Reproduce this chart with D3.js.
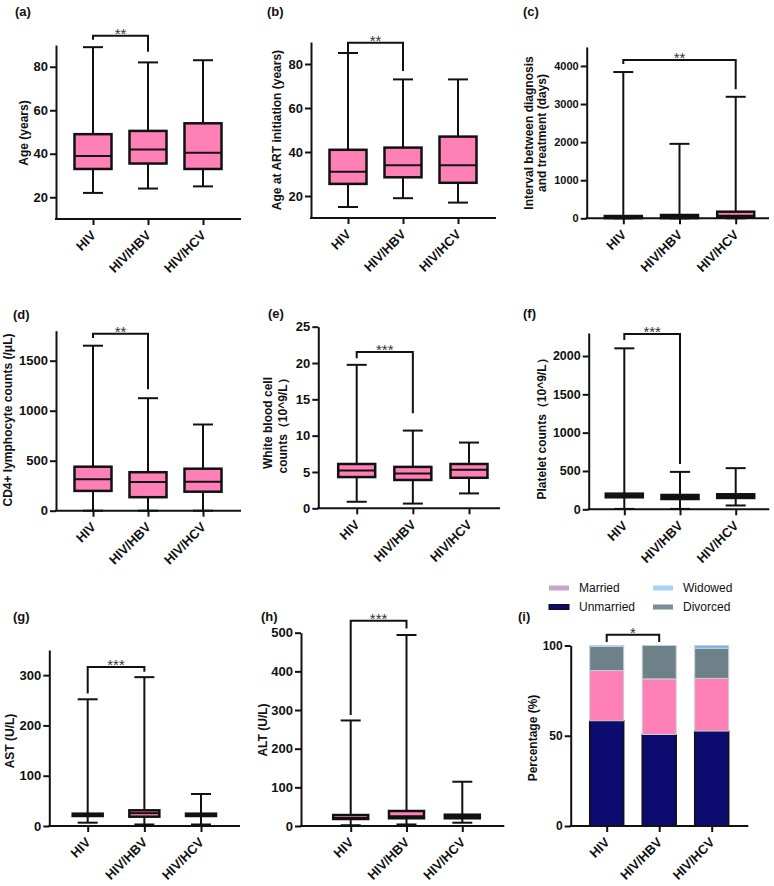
<!DOCTYPE html>
<html>
<head>
<meta charset="utf-8">
<script src="https://cdn.jsdelivr.net/npm/d3@7"></script>
<style>
  body { margin: 0; background: #fff; }
  svg text { font-family: Arial, "Liberation Sans", sans-serif; }
</style>
</head>
<body>
<script>
// groups on every x axis
const groups = ["HIV", "HIV/HBV", "HIV/HCV"];

// box stats per group: [min, q1, median, q3, max]
const ageStats      = [[22, 33, 39, 49, 89], [24, 35.5, 42, 50.5, 82], [25, 33, 40.5, 54, 83]];
const artAgeStats   = [[15, 25.5, 31, 41, 85], [19, 28.5, 34, 42, 73], [17, 26, 34, 47, 73]];
const intervalStats = [[0, 5, 30, 60, 3840], [0, 5, 40, 87, 1955], [0, 26, 70, 173, 3190]];
const cd4Stats      = [[0, 198, 315, 440, 1650], [0, 135, 287, 385, 1125], [0, 190, 290, 420, 862]];
const wbcStats      = [[0.9, 4.3, 5.2, 6.1, 19.75], [0.65, 3.9, 4.8, 5.7, 10.7], [2.05, 4.2, 5.3, 6.1, 9.05]];
const pltStats      = [[5, 157, 180, 204, 2100], [5, 134, 160, 187, 488], [50, 148, 172, 196, 537]];
const astStats      = [[6.6, 19.9, 22, 24.5, 252], [3, 18.5, 25.5, 31.2, 296], [3, 19.9, 22, 24.5, 63.6]];
const altStats      = [[2, 18.1, 21, 28.4, 273], [4, 20, 25, 38.8, 494], [8.5, 20, 25, 29.2, 114.5]];

// tick values
const ageTicks      = [20, 40, 60, 80];
const intervalTicks = [0, 1000, 2000, 3000, 4000];
const cd4Ticks      = [0, 500, 1000, 1500];
const wbcTicks      = [0, 5, 10, 15, 20, 25];
const pltTicks      = [0, 500, 1000, 1500, 2000];
const astTicks      = [0, 100, 200, 300];
const altTicks      = [0, 100, 200, 300, 400, 500];
const pctTicks      = [0, 50, 100];

// marital status (%), stacked bottom to top
const maritalKeys = ["Unmarried", "Married", "Divorced", "Widowed"];
const unmarried = [58.3, 50.7, 52.6];
const married   = [27.8, 30.8, 29.2];
const divorced  = [13.4, 18.5, 16.7];
const widowed   = [0.5, 0, 1.5];

const pink = "#ff80b6";
const ink = "#111";

const svg = d3.select("body").append("svg")
    .attr("width", 774)
    .attr("height", 886);

function styleAxes(g) {
  g.selectAll("path, line").attr("stroke", ink).attr("stroke-width", 2);
  g.selectAll("text").attr("fill", ink).attr("font-weight", "bold");
}

function frame(p, y) {
  const g = svg.append("g");
  const x = d3.scalePoint().domain(groups).range(p.cats);

  g.append("g")
      .attr("transform", `translate(${p.ax},0)`)
      .call(d3.axisLeft(y).tickValues(p.ticks).tickFormat(d3.format("d"))
        .tickSize(6).tickSizeOuter(0).tickPadding(2))
      .call(styleAxes)
      .selectAll("text").attr("font-size", p.yFont || 13);

  const xa = g.append("g")
      .attr("transform", `translate(0,${p.yBot})`)
      .call(d3.axisBottom(x).tickSize(6).tickSizeOuter(0))
      .call(styleAxes);
  xa.select(".domain").remove();
  xa.append("line")
      .attr("x1", p.ax - 1).attr("x2", p.axEnd)
      .attr("stroke", ink).attr("stroke-width", 2);
  xa.selectAll(".tick text")
      .attr("font-size", 13)
      .attr("x", 0).attr("y", 0).attr("dy", "0.35em")
      .attr("text-anchor", "end")
      .attr("transform", "translate(0,14) rotate(-45)");

  // y title
  p.title.forEach((t, i) => {
    svg.append("text")
        .attr("transform", `translate(${p.titleX[i]},${p.titleY}) rotate(-90)`)
        .attr("text-anchor", "middle")
        .attr("font-size", 12).attr("font-weight", "bold").attr("fill", ink)
        .text(t);
  });

  // panel label
  svg.append("text")
      .attr("x", p.lab[0]).attr("y", p.lab[1])
      .attr("font-size", 13).attr("font-weight", "bold").attr("fill", ink)
      .text(p.label);

  // significance bracket
  const b = p.bracket;
  const x1 = x(groups[b.from]), x2 = x(groups[b.to]);
  g.append("path")
      .attr("d", `M${x1},${y(b.left)}V${y(b.y)}H${x2}V${y(b.right)}`)
      .attr("fill", "none").attr("stroke", ink).attr("stroke-width", 2);
  g.append("text")
      .attr("x", (x1 + x2) / 2).attr("y", y(b.y) + 3)
      .attr("text-anchor", "middle")
      .attr("font-size", 15).attr("fill", "#333")
      .text(b.stars);

  return { g, x };
}

function boxPanel(p) {
  const y = d3.scaleLinear().domain(p.domain).range([p.yBot, p.yTop]);
  const { g, x } = frame(p, y);
  const bw = p.boxW, cw = 20;

  const box = g.selectAll(".box")
    .data(p.stats)
    .enter().append("g")
      .attr("class", "box")
      .attr("transform", (d, i) => `translate(${x(groups[i])},0)`);

  box.append("line")
      .attr("y1", d => y(d[0])).attr("y2", d => y(d[4]))
      .attr("stroke", ink).attr("stroke-width", 2);
  box.append("line")
      .attr("x1", -cw / 2).attr("x2", cw / 2)
      .attr("y1", d => y(d[0])).attr("y2", d => y(d[0]))
      .attr("stroke", ink).attr("stroke-width", 2);
  box.append("line")
      .attr("x1", -cw / 2).attr("x2", cw / 2)
      .attr("y1", d => y(d[4])).attr("y2", d => y(d[4]))
      .attr("stroke", ink).attr("stroke-width", 2);
  box.append("rect")
      .attr("x", -bw / 2).attr("width", bw)
      .attr("y", d => y(d[3]))
      .attr("height", d => y(d[1]) - y(d[3]))
      .attr("fill", pink).attr("stroke", ink).attr("stroke-width", 2.5);
  box.append("line")
      .attr("x1", -bw / 2).attr("x2", bw / 2)
      .attr("y1", d => y(d[2])).attr("y2", d => y(d[2]))
      .attr("stroke", ink).attr("stroke-width", 2);
}

boxPanel({ label: "(a)", lab: [15, 16], stats: ageStats, ticks: ageTicks, domain: [10, 90],
  ax: 56, axEnd: 241, yTop: 45, yBot: 219, cats: [93, 203], boxW: 37,
  title: ["Age (years)"], titleX: [28], titleY: 133,
  bracket: { from: 0, to: 1, y: 94.3, left: 92.4, right: 86.9, stars: "**" } });

boxPanel({ label: "(b)", lab: [267, 16], stats: artAgeStats, ticks: ageTicks, domain: [10, 90],
  ax: 311, axEnd: 496, yTop: 42, yBot: 218, cats: [348, 458], boxW: 37,
  title: ["Age at ART initiation (years)"], titleX: [281], titleY: 130,
  bracket: { from: 0, to: 1, y: 89.7, left: 85.1, right: 76.8, stars: "**" } });

boxPanel({ label: "(c)", lab: [523, 16], stats: intervalStats, ticks: intervalTicks, domain: [0, 4500],
  ax: 586.7, axEnd: 769, yTop: 46.9, yBot: 218.3, cats: [623.3, 735.7], boxW: 37, yFont: 11,
  title: ["Interval between diagnosis", "and treatment (days)"], titleX: [533, 546], titleY: 133,
  bracket: { from: 0, to: 2, y: 4157, left: 4052, right: 3388, stars: "**" } });

boxPanel({ label: "(d)", lab: [13, 319], stats: cd4Stats, ticks: cd4Ticks, domain: [0, 1800],
  ax: 56, axEnd: 241, yTop: 330.7, yBot: 510.7, cats: [93, 203], boxW: 37,
  title: ["CD4+ lymphocyte counts (/\u03bcL)"], titleX: [12], titleY: 420,
  bracket: { from: 0, to: 1, y: 1770, left: 1727, right: 1214, stars: "**" } });

boxPanel({ label: "(e)", lab: [268, 318], stats: wbcStats, ticks: wbcTicks, domain: [0, 25],
  ax: 318.3, axEnd: 500, yTop: 326.7, yBot: 508.3, cats: [356.7, 469], boxW: 37,
  title: ["White blood cell", "counts\uff0810^9/L\uff09"], titleX: [272, 287], titleY: 423,
  bracket: { from: 0, to: 1, y: 21.5, left: 20.65, right: 13.07, stars: "***" } });

boxPanel({ label: "(f)", lab: [523, 318], stats: pltStats, ticks: pltTicks, domain: [0, 2300],
  ax: 588.7, axEnd: 769.3, yTop: 333, yBot: 509.3, cats: [624.3, 735.7], boxW: 37, yFont: 12.5,
  title: ["Platelet counts\uff0810^9/L\uff09"], titleX: [546], titleY: 426,
  bracket: { from: 0, to: 1, y: 2287, left: 2209, right: 590, stars: "***" } });

boxPanel({ label: "(g)", lab: [13, 621], stats: astStats, ticks: astTicks, domain: [0, 350],
  ax: 49.3, axEnd: 240, yTop: 650, yBot: 826, cats: [87.7, 201], boxW: 30,
  title: ["AST (U/L)"], titleX: [14], titleY: 741,
  bracket: { from: 0, to: 1, y: 316, left: 263.6, right: 306.6, stars: "***" } });

boxPanel({ label: "(h)", lab: [261, 621], stats: altStats, ticks: altTicks, domain: [0, 500],
  ax: 301, axEnd: 504.3, yTop: 632.7, yBot: 826, cats: [350.7, 462.3], boxW: 35,
  title: ["ALT (U/L)"], titleX: [267], titleY: 730,
  bracket: { from: 0, to: 1, y: 531, left: 287, right: 511, stars: "***" } });

// (i) stacked marital status
(function () {
  const p = { label: "(i)", lab: [518, 621], ticks: pctTicks, yFont: 12,
    ax: 570.7, axEnd: 748.3, yTop: 645.5, yBot: 826, cats: [606.7, 711.7],
    title: ["Percentage (%)"], titleX: [537], titleY: 738,
    bracket: { from: 0, to: 1, y: 106, left: 102, right: 102, stars: "*" } };
  const y = d3.scaleLinear().domain([0, 100]).range([p.yBot, p.yTop]);

  const rows = groups.map((name, i) => ({
    group: name, Unmarried: unmarried[i], Married: married[i], Divorced: divorced[i], Widowed: widowed[i]
  }));
  const series = d3.stack().keys(maritalKeys)(rows);
  const color = d3.scaleOrdinal().domain(maritalKeys).range(["#0b0b70", pink, "#6e8088", "#6fb4ee"]);
  const x = d3.scalePoint().domain(groups).range(p.cats);
  const bw = 34;

  const bars = svg.append("g");
  series.forEach(s => {
    bars.selectAll(null)
      .data(s)
      .enter().append("rect")
        .attr("x", d => x(d.data.group) - bw / 2)
        .attr("width", bw)
        .attr("y", d => y(d[1]))
        .attr("height", d => y(d[0]) - y(d[1]))
        .attr("fill", color(s.key))
        .attr("stroke", s.key === "Unmarried" ? ink : "#c3d0da")
        .attr("stroke-width", s.key === "Unmarried" ? 1.5 : 1);
  });

  frame(p, y);

  // legend
  const legendItems = [
    { key: "Married", fill: "#c6a6cc", col: 0, row: 0 },
    { key: "Widowed", fill: "#a9d3f3", col: 1, row: 0 },
    { key: "Unmarried", fill: "#0b0b70", col: 0, row: 1 },
    { key: "Divorced", fill: "#7a8c94", col: 1, row: 1 }
  ];
  const lg = svg.append("g").attr("transform", "translate(549,588)");
  const item = lg.selectAll("g")
    .data(legendItems)
    .enter().append("g")
      .attr("transform", d => `translate(${d.col * 104},${d.row * 19})`);
  item.append("rect")
      .attr("y", -2.5).attr("width", 20).attr("height", 5)
      .attr("fill", d => d.fill)
      .attr("stroke", d => d.key === "Unmarried" ? ink : "none");
  item.append("text")
      .attr("x", 30).attr("dy", "0.35em")
      .attr("font-size", 12).attr("fill", ink)
      .text(d => d.key);
})();
</script>
</body>
</html>
